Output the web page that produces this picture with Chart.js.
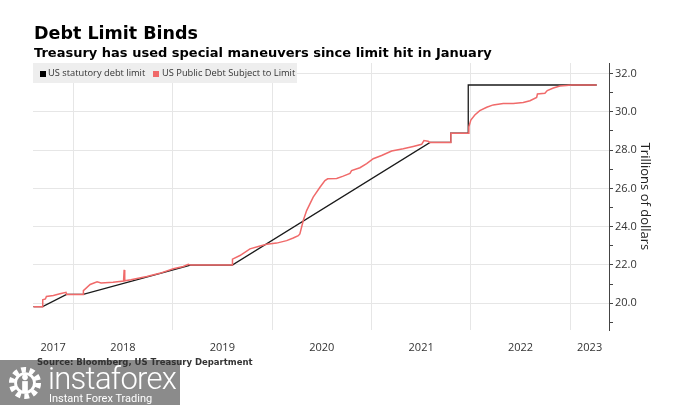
<!DOCTYPE html>
<html>
<head>
<meta charset="utf-8">
<script src="https://cdn.jsdelivr.net/npm/chart.js@4.4.1/dist/chart.umd.min.js"></script>
<style>
body{margin:0;background:#fff;width:675px;height:405px;overflow:hidden;position:relative}
#wrap{position:absolute;left:0;top:0;width:675px;height:405px}
.title{position:absolute;left:34px;top:25px;font:bold 17.5px/1 "DejaVu Sans",sans-serif;color:#000;white-space:nowrap}
.sub{position:absolute;left:34px;top:46px;font:bold 13px/1 "DejaVu Sans",sans-serif;color:#000;white-space:nowrap}
.legend{position:absolute;left:33px;top:63px;width:264px;height:20px;background:#eeeeee;font:9.3px/20px "Open Sans",sans-serif;color:#333;white-space:nowrap}
.legend span{position:absolute;top:0}
.legend i{position:absolute;top:8px;width:6px;height:6px}
.source{position:absolute;z-index:2;left:37px;top:358px;font:bold 8.5px/1 "DejaVu Sans",sans-serif;color:#333;white-space:nowrap}
.wm{position:absolute;z-index:1;left:0;top:360px;width:180px;height:45px;background:rgba(114,114,114,0.82)}
.wm svg{position:absolute;left:6px;top:6px}
.wm1{position:absolute;left:48px;top:3px;font:300 31px/1 Roboto,sans-serif;color:#fff;letter-spacing:-0.7px;white-space:nowrap}
.wm2{position:absolute;left:49px;top:33px;font:11px/1 Roboto,sans-serif;color:#fff;white-space:nowrap}
</style>
</head>
<body>
<div id="wrap"><canvas id="chart"></canvas></div>
<div class="title">Debt Limit Binds</div>
<div class="sub">Treasury has used special maneuvers since limit hit in January</div>
<div class="legend">
  <i style="left:7px;background:#000"></i><span style="left:15px">US statutory debt limit</span>
  <i style="left:120px;background:#f06a6a"></i><span style="left:129px">US Public Debt Subject to Limit</span>
</div>
<div class="source">Source: Bloomberg, US Treasury Department</div>
<div class="wm">
  <svg width="38" height="34" viewBox="0 0 38 36">
    <circle cx="19" cy="18" r="14" fill="none" stroke="#fff" stroke-width="6" stroke-dasharray="5 3.8"/>
    <circle cx="19" cy="18" r="10" fill="none" stroke="#fff" stroke-width="3"/>
    <circle cx="19" cy="12" r="3" fill="#fff"/>
    <rect x="16" y="16" width="6" height="12" fill="#fff"/>
  </svg>
  <div class="wm1">instaforex</div>
  <div class="wm2">Instant Forex Trading</div>
</div>
<script>
// statutory debt limit (trillions), x in decimal years
var limitX = [2017.600, 2017.692, 2017.933, 2018.100, 2019.180, 2019.600, 2021.590, 2021.797, 2021.797, 2021.974, 2021.974, 2023.266];
var limitY = [19.82, 19.82, 20.46, 20.46, 21.99, 21.99, 28.40, 28.40, 28.88, 28.88, 31.40, 31.40];

// public debt subject to limit
var debtX = [2017.600, 2017.692, 2017.693, 2017.720, 2017.730, 2017.800, 2017.866, 2017.927, 2017.933, 2018.100,
  2018.102, 2018.170, 2018.240, 2018.280, 2018.400, 2018.506, 2018.512, 2018.518, 2018.580, 2018.740,
  2018.870, 2019.006, 2019.107, 2019.157, 2019.180, 2019.600, 2019.602, 2019.677, 2019.778, 2019.861,
  2019.946, 2020.046, 2020.147, 2020.213, 2020.264, 2020.280, 2020.314, 2020.348, 2020.414, 2020.482,
  2020.532, 2020.560, 2020.650, 2020.716, 2020.784, 2020.800, 2020.884, 2020.952, 2021.018, 2021.102,
  2021.203, 2021.320, 2021.420, 2021.505, 2021.528, 2021.570, 2021.590, 2021.797, 2021.799, 2021.974,
  2021.980, 2022.000, 2022.040, 2022.090, 2022.160, 2022.225, 2022.326, 2022.427, 2022.527, 2022.595,
  2022.662, 2022.670, 2022.745, 2022.769, 2022.830, 2022.896, 2022.960, 2023.014, 2023.266];
var debtY = [19.82, 19.82, 20.18, 20.22, 20.35, 20.40, 20.49, 20.57, 20.46, 20.46,
  20.66, 20.98, 21.12, 21.06, 21.10, 21.16, 21.74, 21.17, 21.22, 21.39,
  21.56, 21.80, 21.92, 22.03, 21.99, 21.99, 22.30, 22.49, 22.84, 22.96,
  23.08, 23.14, 23.27, 23.41, 23.53, 23.62, 24.32, 24.84, 25.54, 26.06,
  26.41, 26.50, 26.52, 26.64, 26.78, 26.93, 27.08, 27.29, 27.55, 27.72,
  27.95, 28.07, 28.19, 28.30, 28.50, 28.46, 28.40, 28.40, 28.88, 28.88,
  29.22, 29.57, 29.83, 30.06, 30.24, 30.36, 30.44, 30.44, 30.49, 30.58,
  30.75, 30.93, 30.97, 31.11, 31.24, 31.35, 31.38, 31.40, 31.40];

var yearLabels = ['2017', '2018', '2019', '2020', '2021', '2022', '2023'];
var yearLines = [2018, 2019, 2020, 2021, 2022, 2023];
var yTickValues = [19, 20, 21, 22, 23, 24, 25, 26, 27, 28, 29, 30, 31, 32];

var xMin = 2017.595, xMax = 2023.39;
var yMin = 18.6, yMax = 32.55;

function pts(xs, ys) {
  return xs.map(function (x, i) { return {x: x, y: ys[i]}; });
}

// year labels sit in the middle of the visible part of each year
var labelPos = yearLabels.map(function (y) {
  var a = Math.max(+y, xMin), b = Math.min(+y + 1, xMax);
  return (a + b) / 2;
});

var ctx = document.getElementById('chart');
new Chart(ctx, {
  type: 'line',
  data: {
    datasets: [
      {label: 'US Public Debt Subject to Limit', data: pts(debtX, debtY),
        borderColor: '#f06a6a', borderWidth: 1.5, order: 0},
      {label: 'US statutory debt limit', data: pts(limitX, limitY),
        borderColor: '#1a1a1a', borderWidth: 1.3, order: 1}
    ]
  },
  options: {
    responsive: true,
    maintainAspectRatio: false,
    animation: false,
    devicePixelRatio: 1,
    layout: {padding: {left: 33, top: 63, right: 18, bottom: 50}},
    elements: {point: {radius: 0}, line: {tension: 0}},
    plugins: {legend: {display: false}, tooltip: {enabled: false}},
    scales: {
      x: {
        type: 'linear', position: 'bottom', min: xMin, max: xMax,
        grid: {color: '#e6e6e6', drawTicks: false},
        border: {display: false},
        ticks: {display: false},
        afterBuildTicks: function (s) { s.ticks = yearLines.map(function (v) { return {value: v}; }); },
        afterFit: function (s) { s.height = 0; }
      },
      x2: {
        type: 'linear', position: 'bottom', min: xMin, max: xMax,
        grid: {display: false, drawTicks: false},
        border: {display: false},
        ticks: {
          padding: 11, color: '#333', autoSkip: false, maxRotation: 0,
          font: {family: 'Open Sans', size: 11},
          callback: function (v, i) { return yearLabels[i]; }
        },
        afterBuildTicks: function (s) { s.ticks = labelPos.map(function (v) { return {value: v}; }); },
        afterFit: function (s) { s.height = 25; }
      },
      y: {
        type: 'linear', position: 'right', min: yMin, max: yMax,
        grid: {
          color: function (c) { return c.tick && c.tick.value % 2 === 0 ? '#e6e6e6' : 'rgba(0,0,0,0)'; },
          tickColor: '#444', tickLength: 4
        },
        border: {display: true, color: '#444', width: 1},
        ticks: {
          padding: 2, color: '#333', autoSkip: false,
          font: {family: 'Open Sans', size: 11},
          callback: function (v) { return v % 2 === 0 ? v.toFixed(1) : ''; }
        },
        afterBuildTicks: function (s) { s.ticks = yTickValues.map(function (v) { return {value: v}; }); },
        afterFit: function (s) { s.width = 48; },
        title: {
          display: true, text: 'Trillions of dollars', color: '#222',
          font: {family: 'Open Sans', size: 13}, padding: {top: 4, bottom: 0}
        }
      }
    }
  }
});
</script>
</body>
</html>
